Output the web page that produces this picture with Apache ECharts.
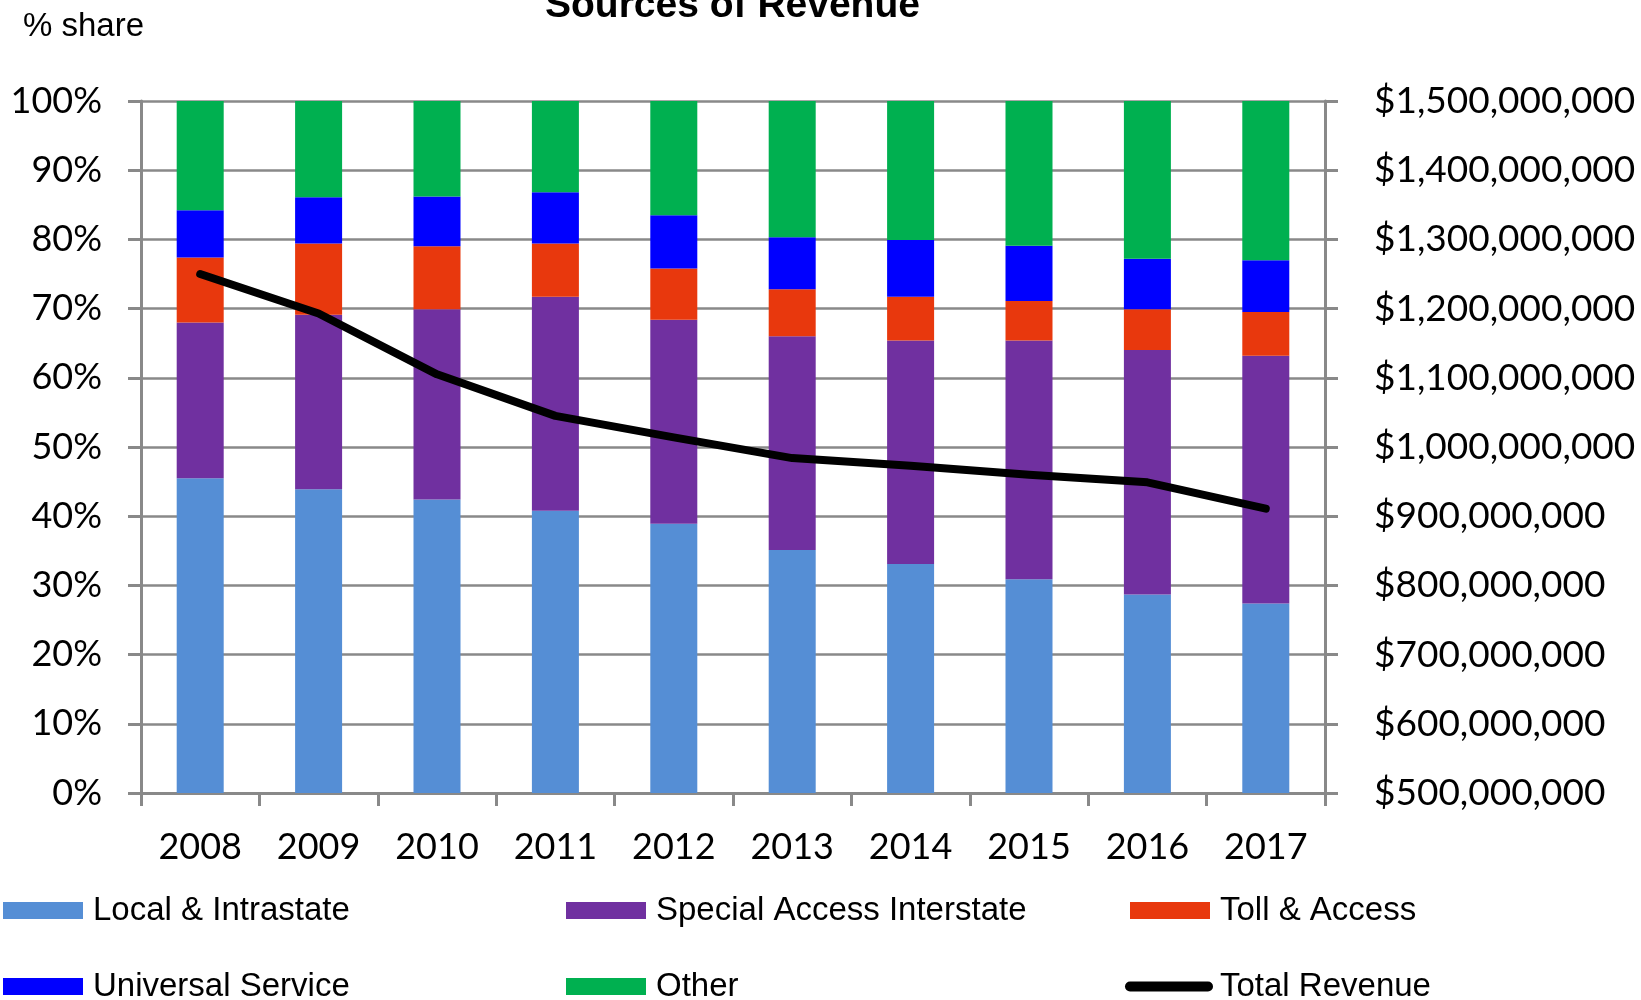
<!DOCTYPE html>
<html>
<head>
<meta charset="utf-8">
<script src="https://cdn.jsdelivr.net/npm/echarts@6/dist/echarts.min.js"></script>
<style>
html,body{margin:0;padding:0;background:#fff;}
#chart{width:1641px;height:1000px;}
</style>
</head>
<body>
<div id="chart"></div>
<script>
const years = ['2008','2009','2010','2011','2012','2013','2014','2015','2016','2017'];
const localIntrastate = [45.5, 43.9, 42.4, 40.8, 38.9, 35.1, 33.1, 30.9, 28.7, 27.4];
const specialAccessInterstate = [22.5, 25.2, 27.5, 30.9, 29.5, 30.9, 32.3, 34.5, 35.3, 35.8];
const tollAccess = [9.4, 10.3, 9.1, 7.7, 7.4, 6.8, 6.3, 5.7, 5.9, 6.3];
const universalService = [6.8, 6.7, 7.2, 7.4, 7.7, 7.5, 8.2, 8.0, 7.3, 7.5];
const other = [15.8, 13.9, 13.8, 13.2, 16.5, 19.7, 20.1, 20.9, 22.8, 23.0];
const totalRevenue = [1250000000, 1193000000, 1105000000, 1045000000, 1014000000, 984000000, 973000000, 960000000, 949000000, 911000000];

const GRAY = '#898989';
const axisFont = { fontFamily: 'Lato', fontSize: 36, color: '#000' };
const legFont = { fontFamily: 'Liberation Sans', fontSize: 33, color: '#000', padding: [0,0,0,5] };

function money(v){
  return '$' + String(Math.round(v)).replace(/\B(?=(\d{3})+(?!\d))/g, ',');
}

function leg(name, left, top){
  return {
    data: [{ name: name, icon: 'rect' }], left: left, top: top, padding: 0, itemWidth: 80, itemHeight: 17,
    selectedMode: false, textStyle: legFont
  };
}

const chart = echarts.init(document.getElementById('chart'), null, { renderer: 'canvas' });
chart.setOption({
  animation: false,
  backgroundColor: '#fff',
  title: [
    { text: 'Sources of Revenue', left: 545, top: -13, padding: 0,
      textStyle: { fontFamily: 'Liberation Sans', fontWeight: 'bold', fontSize: 39, color: '#000' } },
    { text: '% share', left: 23, top: 10, padding: 0,
      textStyle: { fontFamily: 'Liberation Sans', fontWeight: 'normal', fontSize: 33, color: '#000' } }
  ],
  legend: [
    leg('Local & Intrastate', 3, 894),
    leg('Special Access Interstate', 566, 894),
    leg('Toll & Access', 1130, 894),
    leg('Universal Service', 3, 970),
    leg('Other', 566, 970),
    { data: [{ name: 'Total Revenue', icon: 'path://M5 0H83A5 5 0 0 1 83 10H5A5 5 0 0 1 5 0Z', itemStyle: { color: '#000' } }],
      left: 1125, top: 970, padding: 0, itemWidth: 88, itemHeight: 10, selectedMode: false,
      textStyle: Object.assign({}, legFont, { padding: [0,0,0,2] }) }
  ],
  grid: { left: 141, top: 101, width: 1184, height: 692, containLabel: false },
  xAxis: {
    type: 'category', data: years, boundaryGap: true,
    axisLine: { show: true, lineStyle: { color: GRAY, width: 3 } },
    axisTick: { show: true, length: 13, inside: false, alignWithLabel: false, lineStyle: { color: GRAY, width: 3 } },
    axisLabel: Object.assign({ margin: 36 }, axisFont),
    splitLine: { show: false }
  },
  yAxis: [
    { type: 'value', min: 0, max: 100, interval: 10, position: 'left',
      axisLine: { show: true, lineStyle: { color: GRAY, width: 3 } },
      axisTick: { show: true, length: 13, inside: false, lineStyle: { color: GRAY, width: 3 } },
      axisLabel: Object.assign({ margin: 39, formatter: '{value}%' }, axisFont),
      splitLine: { show: true, lineStyle: { color: GRAY, width: 2.6 } } },
    { type: 'value', min: 500000000, max: 1500000000, interval: 100000000, position: 'right',
      axisLine: { show: true, lineStyle: { color: GRAY, width: 3 } },
      axisTick: { show: true, length: 13, inside: false, lineStyle: { color: GRAY, width: 3 } },
      axisLabel: Object.assign({ margin: 49, formatter: money }, axisFont, { fontSize: 37 }),
      splitLine: { show: false } }
  ],
  series: [
    { name: 'Local & Intrastate', type: 'bar', stack: 'share', barWidth: 47, data: localIntrastate, itemStyle: { color: '#558ED5' } },
    { name: 'Special Access Interstate', type: 'bar', stack: 'share', barWidth: 47, data: specialAccessInterstate, itemStyle: { color: '#7030A0' } },
    { name: 'Toll & Access', type: 'bar', stack: 'share', barWidth: 47, data: tollAccess, itemStyle: { color: '#E8380D' } },
    { name: 'Universal Service', type: 'bar', stack: 'share', barWidth: 47, data: universalService, itemStyle: { color: '#0000FF' } },
    { name: 'Other', type: 'bar', stack: 'share', barWidth: 47, data: other, itemStyle: { color: '#00B050' } },
    { name: 'Total Revenue', type: 'line', yAxisIndex: 1, data: totalRevenue, showSymbol: false, symbol: 'none', z: 10,
      itemStyle: { color: '#000' },
      lineStyle: { color: '#000', width: 8, cap: 'round', join: 'round' } }
  ]
});
</script>
</body>
</html>
